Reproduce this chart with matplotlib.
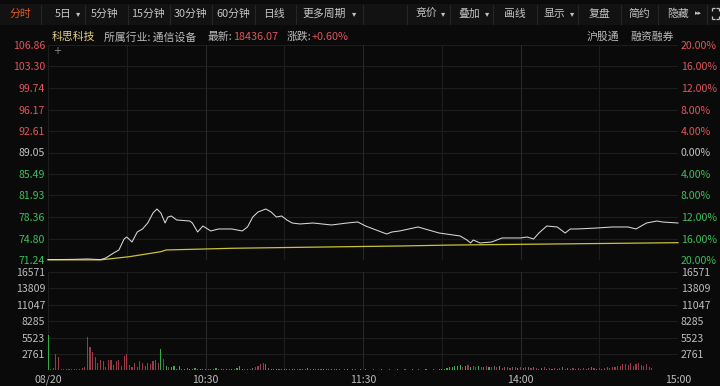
import matplotlib
matplotlib.use("Agg")
import matplotlib.pyplot as plt
import numpy as np

plt.rcParams['font.family'] = ['Noto Sans CJK SC', 'DejaVu Sans']

W, H = 720, 386
BG = '#0a0a0a'
GRID = '#1d1d1d'
GRID2 = '#282828'
RED = '#e0555a'
GREEN = '#3cbf58'
GREY = '#c4c4c4'
TXT = '#bdbdbd'

# ---------------- data ----------------
price_ticks = [106.86, 103.30, 99.74, 96.17, 92.61, 89.05, 85.49, 81.93, 78.36, 74.80, 71.24]
pct_labels = ['20.00%', '16.00%', '12.00%', '8.00%', '4.00%', '0.00%',
              '4.00%', '8.00%', '12.00%', '16.00%', '20.00%']
vol_ticks = [16571, 13809, 11047, 8285, 5523, 2761]
x_tick_min = [0, 60, 120, 180, 240]
x_tick_labels = ['08/20', '10:30', '11:30', '14:00', '15:00']

price_t = [0, 5, 10, 15, 20, 22, 25, 27, 29, 30, 32, 34, 36, 38, 40, 41.5, 43, 44.6,
           45.7, 47, 49, 54, 55, 57, 59, 62, 65, 70, 74, 76, 78, 80, 83, 85, 87,
           89, 91, 93, 96, 101, 108, 114, 118, 121, 125, 129, 131, 134, 141, 145,
           149, 157, 159.6, 161, 162, 164.6, 169, 173, 180, 182.5, 185, 187, 190,
           194, 197, 199, 201.5, 209, 215, 221, 224, 228, 232, 234, 240]
price_v = [71.32, 71.32, 71.35, 71.41, 71.30, 71.57, 72.40, 72.90, 74.72, 75.05,
           74.22, 75.88, 76.38, 77.37, 79.03, 79.69, 79.03, 77.37, 78.36, 78.53,
           77.87, 77.70, 77.37, 75.88, 76.87, 76.05, 76.38, 76.38, 76.05, 76.71,
           78.36, 79.19, 79.69, 79.19, 78.36, 78.53, 77.87, 77.37, 77.21, 77.37,
           77.04, 77.37, 77.54, 76.87, 76.21, 75.55, 75.88, 76.05, 76.71, 76.21,
           75.71, 75.22, 74.55, 74.06, 74.55, 74.06, 74.22, 74.89, 74.89, 75.05,
           74.72, 75.71, 76.87, 76.71, 75.71, 76.38, 76.38, 76.54, 76.71, 76.71,
           76.38, 77.37, 77.70, 77.54, 77.37]

avg_t = [0, 20, 31, 43, 45, 70, 96, 134, 154, 192, 240]
avg_v = [71.26, 71.26, 71.79, 72.62, 72.90, 73.18, 73.34, 73.56, 73.72, 73.89, 74.11]

# per-minute volume (0..240) and direction r=up, g=down, w=flat
vol = [6000, 300, 400, 2700, 2300, 300, 250, 300, 200, 250,
       300, 200, 250, 400, 500, 5600, 4000, 3100, 2300, 1200,
       1700, 1500, 600, 1700, 1800, 900, 1500, 1800, 700, 2400,
       2800, 900, 500, 1200, 600, 1500, 1200, 700, 1300, 1000,
       1500, 1800, 1200, 3600, 1900, 800, 600, 500, 700, 300,
       800, 300, 250, 400, 200, 300, 350, 200, 250, 300,
       200, 250, 300, 200, 350, 250, 200, 300, 250, 200,
       300, 250, 350, 700, 300, 250, 200, 300, 400, 600,
       800, 1100, 1200, 1000, 400, 300, 250, 200, 300, 250,
       200, 250, 300, 200, 250, 200, 300, 250, 200, 350,
       250, 200, 300, 200, 250, 300, 200, 250, 200, 300,
       250, 200, 150, 200, 250, 150, 200, 250, 150, 200,
       150, 200, 150, 150, 200, 150, 150, 200, 150, 150,
       200, 150, 150, 200, 150, 150, 200, 150, 150, 200,
       150, 200, 150, 150, 200, 150, 150, 200, 150, 300,
       250, 300, 400, 500, 600, 800, 700, 900, 600, 700,
       900, 500, 800, 600, 700, 500, 600, 700, 500, 600,
       800, 500, 700, 400, 600, 500, 400, 500, 600, 400,
       500, 400, 600, 500, 400, 500, 400, 300, 400, 500,
       300, 400, 300, 400, 300, 400, 500, 300, 400, 300,
       400, 300, 400, 300, 400, 300, 400, 500, 400, 300,
       400, 300, 400, 500, 400, 500, 600, 700, 800, 1000,
       1100, 900, 1200, 800, 1000, 1200, 900, 700, 1000, 600,
       400]
vol_dir = ("grrrrrrrrrrrrrrrrrrrrrrrrrrrrrrrrrrrrrrrrrrgrgrggg"
           "gwgwgwgwgwgwgwgwgwgwgwgggrwrwrrrrwwgwgwwgwwgwrwgwg"
           "wgwgwgwwgwgwgwgwgwwgwgwgwgwgwgwgwgwgwgwgwwgwgwgwgg"
           "ggggggggrgrgrrgrwrgrwrgrwrrwrgrwrwrwrwwrwrwrwrwrww"
           "rwrwrwrwrwrwrrrrrrrrrrrrrrrrrrrrrrrrrrrrr")

# ---------------- figure ----------------
fig = plt.figure(figsize=(W / 100, H / 100), dpi=100, facecolor=BG)


def fx(x):
    return x / W


def fy(y):
    return 1 - y / H


# toolbar
tb = fig.add_axes([0, fy(28), 1, 28 / H])
tb.set_xlim(0, W)
tb.set_ylim(28, 0)
tb.axis('off')
tb.add_patch(plt.Rectangle((0, 4), 720, 21, facecolor='#121212', edgecolor='none'))
for sx in [41, 85, 128, 170, 212, 255, 296, 363, 407, 450, 493, 537, 578, 621, 658, 707]:
    tb.plot([sx, sx], [5, 24], color='#262626', lw=0.8)
tb.text(20, 14, '分时', color='#e25a22', fontsize=7.8, ha='center', va='center')
left_items = [(63, '5日'), (105, '5分钟'), (148, '15分钟'), (191, '30分钟'),
              (233, '60分钟'), (274, '日线'), (324, '更多周期')]
for x, s in left_items:
    tb.text(x, 14, s, color=GREY, fontsize=7.8, ha='center', va='center')
right_items = [(426, '竞价'), (469, '叠加'), (515, '画线'), (554, '显示'),
               (600, '复盘'), (639, '简约'), (678, '隐藏')]
for x, s in right_items:
    tb.text(x, 14, s, color=GREY, fontsize=7.8, ha='center', va='center')
for x in [78, 354, 443, 487, 572]:
    tb.text(x, 13.5, '▾', color=GREY, fontsize=6, ha='center', va='center', family='DejaVu Sans')
tb.text(698, 13.5, '▸▸', color=GREY, fontsize=5, ha='center', va='center', family='DejaVu Sans')
# expand icon (four small corners)
for cx, cy, dx, dy in [(712, 8, 1, 1), (719, 8, -1, 1), (712, 19, 1, -1), (719, 19, -1, -1)]:
    tb.plot([cx, cx + 3 * dx], [cy, cy], color=GREY, lw=0.9, solid_capstyle='butt')
    tb.plot([cx, cx], [cy, cy + 3 * dy], color=GREY, lw=0.9, solid_capstyle='butt')

# info row
fig.text(fx(52), fy(37), '科思科技', color='#e2cf86', fontsize=7.8, va='center')
fig.text(fx(104), fy(37), '所属行业: 通信设备', color=TXT, fontsize=7.8, va='center')
fig.text(fx(208), fy(37), '最新:', color=TXT, fontsize=7.8, va='center')
fig.text(fx(233), fy(37), '18436.07', color=RED, fontsize=7.8, va='center')
fig.text(fx(287), fy(37), '涨跌:', color=TXT, fontsize=7.8, va='center')
fig.text(fx(312), fy(37), '+0.60%', color=RED, fontsize=7.8, va='center')
fig.text(fx(587), fy(37), '沪股通', color=TXT, fontsize=7.8, va='center')
fig.text(fx(630), fy(37), '融资融券', color=TXT, fontsize=7.8, va='center')

# ---------------- price panel ----------------
L, R = 48, 678
ax = fig.add_axes([fx(L), fy(260), (R - L) / W, (260 - 45) / H], facecolor=BG)
ax.set_xlim(0, 240)
ax.set_ylim(price_ticks[-1], price_ticks[0])
for s in ax.spines.values():
    s.set_visible(False)
for p in price_ticks:
    ax.axhline(p, color=GRID, lw=0.8, zorder=0)
for m in range(0, 241, 30):
    c = GRID2 if m in (60, 120, 180) else GRID
    ax.axvline(m, color=c, lw=0.8, zorder=0)
ax.set_xticks([])
ax.set_yticks(price_ticks)
ax.set_yticklabels([f'{p:.2f}' for p in price_ticks], fontsize=7.6)
ax.tick_params(axis='y', length=0, pad=2)
for i, lab in enumerate(ax.get_yticklabels()):
    lab.set_color(RED if i < 5 else (GREY if i == 5 else GREEN))
axr = ax.twinx()
axr.set_ylim(ax.get_ylim())
axr.set_yticks(price_ticks)
axr.set_yticklabels(pct_labels, fontsize=7.6)
axr.tick_params(axis='y', length=0, pad=2)
for i, lab in enumerate(axr.get_yticklabels()):
    lab.set_color(RED if i < 5 else (GREY if i == 5 else GREEN))
for s in axr.spines.values():
    s.set_visible(False)

ax.plot(avg_t, avg_v, color='#c9c23a', lw=0.9, clip_on=False, zorder=3)
ax.plot(price_t, price_v, color='#d8d8d8', lw=0.75, clip_on=False, zorder=4)
ax.text(2, 105.9, '+', color='#8a8a8a', fontsize=7, ha='left', va='center', family='DejaVu Sans')

# ---------------- volume panel ----------------
vax = fig.add_axes([fx(L), fy(370.4), (R - L) / W, (370.4 - 272) / H], facecolor=BG)
vax.set_xlim(0, 240)
vax.set_ylim(0, vol_ticks[0])
for s in vax.spines.values():
    s.set_visible(False)
for v in vol_ticks:
    vax.axhline(v, color=GRID, lw=0.8, zorder=0)
vax.axhline(0, color=GRID, lw=0.8, zorder=0)
for m in range(0, 241, 30):
    c = GRID2 if m in (60, 120, 180) else GRID
    vax.axvline(m, color=c, lw=0.8, zorder=0)
cmap = {'r': '#9a3a48', 'g': '#2fae4c', 'w': '#6a6a6a'}
minutes = np.arange(len(vol))
vax.bar(minutes, vol, width=0.45, color=[cmap[d] for d in vol_dir], linewidth=0, zorder=2)
vax.set_yticks(vol_ticks)
vax.set_yticklabels([str(v) for v in vol_ticks], fontsize=7.6, color=TXT)
vax.tick_params(axis='y', length=0, pad=2)
vaxr = vax.twinx()
vaxr.set_ylim(vax.get_ylim())
vaxr.set_yticks(vol_ticks)
vaxr.set_yticklabels([str(v) for v in vol_ticks], fontsize=7.6, color=TXT)
vaxr.tick_params(axis='y', length=0, pad=2)
for s in vaxr.spines.values():
    s.set_visible(False)
vax.set_xticks(x_tick_min)
vax.set_xticklabels(x_tick_labels, fontsize=7.6, color=TXT)
vax.tick_params(axis='x', length=0, pad=3)

fig.savefig('out.png', dpi=100, facecolor=BG)
